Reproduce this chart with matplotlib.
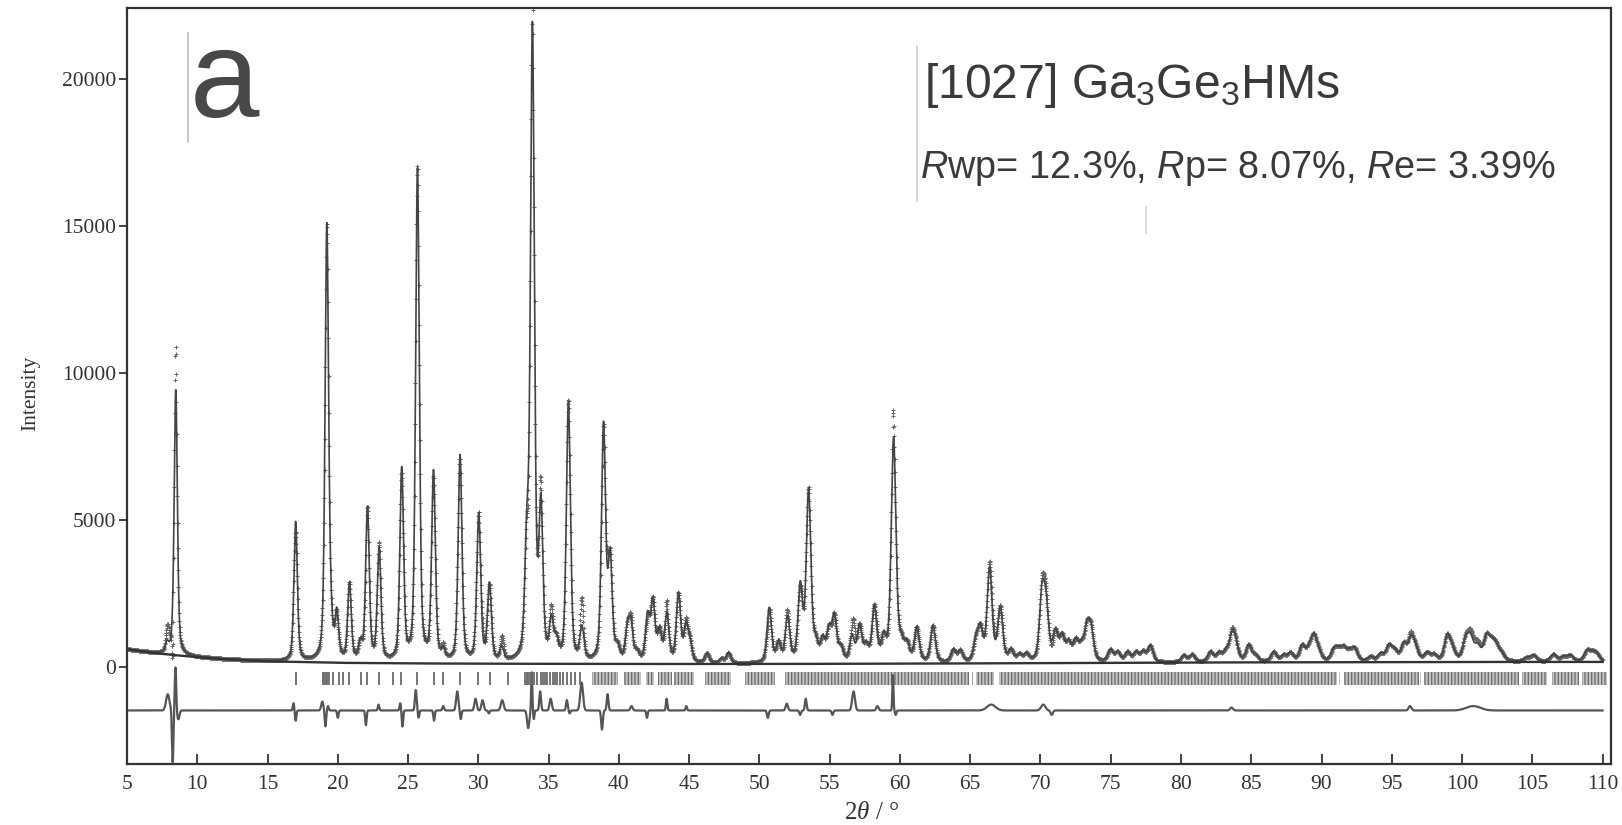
import numpy as np
import matplotlib
matplotlib.use("Agg")
import matplotlib.pyplot as plt
from matplotlib.lines import Line2D

plt.rcParams['mathtext.fontset'] = 'custom'
plt.rcParams['mathtext.rm'] = 'Liberation Sans'
plt.rcParams['mathtext.it'] = 'Liberation Sans:italic'
plt.rcParams['mathtext.sf'] = 'Liberation Sans'
plt.rcParams['mathtext.bf'] = 'Liberation Serif:italic'
plt.rcParams['hatch.linewidth'] = 0.9
plt.rcParams['hatch.color'] = '#6a6a6a'

# background points (2theta, counts)
bg_pos = [5, 6, 7, 8, 10, 12, 15, 20, 25, 30, 40, 50, 60, 70, 80, 90, 100, 110]
bg_int = [600, 530, 470, 420, 330, 260, 190, 140, 120, 110, 100, 100, 110, 130, 150, 160, 170, 170]

# calculated reflections: position (2theta) and height above background
peak_pos = [7.85, 8.47, 17.0, 19.22, 19.5, 19.93, 20.83, 21.6, 22.11, 22.94,
            24.55, 25.67, 26.81, 27.5, 28.70, 30.03, 30.79, 31.67, 33.45, 33.85,
            34.45, 35.2, 35.55, 36.41, 37.37, 38.91, 39.38, 39.9, 40.6, 40.85,
            41.3, 42.04, 42.42, 42.89, 43.41, 44.24, 44.77, 45.05, 46.27, 47.3,
            47.8, 50.7, 51.36, 52.0, 52.91, 53.50, 54.0, 54.5, 54.95, 55.33,
            55.8, 56.59, 57.13, 57.6, 58.18, 58.84, 59.55, 60.1, 60.5, 61.2,
            62.35, 63.8, 64.3, 65.4, 65.72, 66.38, 67.14, 67.9, 68.5, 69.0,
            70.11, 70.4, 71.06, 71.53, 72.0, 72.5, 72.9, 73.3, 73.6, 74.98,
            75.5, 76.2, 76.8, 77.3, 77.82, 80.2, 80.8, 82.1, 82.7, 83.2,
            83.64, 83.9, 84.82, 85.3, 86.6, 87.3, 87.8, 88.62, 89.1, 89.45,
            89.8, 90.87, 91.2, 91.58, 92.0, 92.37, 93.5, 94.2, 94.79, 95.2,
            95.86, 96.38, 96.7, 97.5, 98.0, 98.94, 99.3, 100.25, 100.6, 101.1,
            101.74, 102.1, 102.4, 102.8, 104.6, 105.1, 106.5, 107.2, 107.7, 108.9,
            109.3, 109.6]
peak_h = [300, 9050, 4730, 14750, 900, 1500, 2600, 550, 5200, 3800,
          6500, 16750, 6400, 300, 7000, 5000, 2600, 450, 3600, 21400,
          5000, 1250, 600, 8800, 1100, 8000, 3400, 450, 1000, 1200,
          300, 1500, 2000, 1000, 1600, 2300, 1150, 600, 330, 150,
          350, 1850, 650, 1500, 2500, 5800, 550, 700, 1000, 1500,
          450, 850, 1200, 500, 1850, 750, 7600, 550, 550, 1150,
          1250, 420, 380, 650, 1050, 3150, 1800, 380, 230, 250,
          2200, 1700, 950, 800, 600, 650, 450, 1050, 1000, 400,
          320, 330, 320, 330, 550, 220, 250, 330, 280, 320,
          850, 450, 550, 200, 330, 200, 280, 520, 350, 800,
          280, 360, 320, 400, 280, 400, 150, 240, 500, 320,
          560, 720, 350, 260, 200, 820, 350, 620, 700, 450,
          750, 450, 420, 230, 120, 200, 240, 150, 200, 350,
          220, 200]

# observed minus calculated features: position, amplitude, width
diff_pos = [7.9, 8.25, 8.45, 8.65, 16.85, 17.0, 18.9, 19.12, 19.3, 20.0,
            22.0, 22.9, 24.45, 24.6, 25.55, 25.75, 26.85, 27.5, 28.5, 28.75,
            29.8, 30.3, 30.75, 31.7, 33.55, 33.8, 33.95, 34.4, 35.15, 36.3,
            36.5, 37.35, 38.8, 39.2, 40.9, 42.0, 43.4, 44.8, 50.6, 51.95,
            52.9, 53.3, 55.2, 56.7, 58.4, 59.5, 59.7, 66.5, 70.2, 70.8,
            83.6, 96.3, 100.8]
diff_amp = [550, -1800, 1500, -300, 250, -350, 300, -550, 150, -250,
            -500, 200, 250, -550, 700, -250, -350, 150, 650, -300,
            400, 350, -100, 350, -600, 1300, -300, 650, 400, 350,
            -100, 950, -650, 550, 150, -250, 400, 150, -250, 230,
            -150, 400, -150, 650, 150, 1200, -150, 200, 200, -150,
            100, 150, 150]
diff_wid = [0.12, 0.05, 0.05, 0.08, 0.05, 0.05, 0.08, 0.05, 0.05, 0.05,
            0.05, 0.05, 0.05, 0.05, 0.06, 0.05, 0.05, 0.06, 0.08, 0.05,
            0.08, 0.08, 0.05, 0.1, 0.08, 0.04, 0.04, 0.06, 0.08, 0.06,
            0.05, 0.1, 0.06, 0.06, 0.08, 0.05, 0.05, 0.05, 0.06, 0.08,
            0.06, 0.06, 0.06, 0.1, 0.08, 0.04, 0.05, 0.3, 0.15, 0.08,
            0.1, 0.1, 0.5]
diff_offset = -1480

# reflection markers: single ticks and dense bands
hkl_ticks = [17.0, 18.95, 19.05, 19.15, 19.25, 19.38, 19.66, 20.07, 20.34, 20.83,
             21.62, 22.11, 22.93, 23.96, 24.52, 25.65, 26.82, 27.52, 28.72, 30.0,
             30.81, 32.14, 33.33, 33.45, 33.57, 33.69, 33.81, 33.98, 34.21, 34.45,
             34.6, 34.76, 34.9, 35.11, 35.3, 35.45, 35.6, 35.78, 36.02, 36.31,
             36.59, 36.9, 37.25]
hkl_bands = [(38.07, 39.97), (40.4, 41.55), (41.95, 42.5), (42.8, 43.8), (43.9, 45.35),
             (46.15, 47.95), (48.96, 51.14), (51.82, 64.9), (65.1, 65.2), (65.44, 66.67),
             (67.07, 91.1), (91.25, 91.35), (91.58, 96.92), (97.0, 97.1), (97.28, 104.04),
             (104.28, 106.06), (106.42, 108.31), (108.55, 110.33)]


def fwhm(p):
    return 0.26 + 0.0025 * (p - 5)


tt = np.arange(5.0, 110.0001, 0.02)
bg = np.interp(tt, bg_pos, bg_int)
calc = bg.copy()
for p, h in zip(peak_pos, peak_h):
    w = fwhm(p)
    d2 = 4 * (tt - p) ** 2 / w ** 2
    calc += h * (0.45 / (1 + d2) + 0.55 * np.exp(-np.log(2) * d2))
diff = np.zeros_like(tt)
for p, a, s in zip(diff_pos, diff_amp, diff_wid):
    diff += a * np.exp(-0.5 * ((tt - p) / s) ** 2)
obs = calc + diff

fig = plt.figure(figsize=(16.22, 8.25), dpi=100)
ax = fig.add_axes([127 / 1622, 1 - 764 / 825, (1611 - 127) / 1622, (764 - 8) / 825])

ax.plot(tt, obs, ls='none', marker='+', ms=3.5, mew=0.7, color='#666666')
ax.plot(tt, calc, color='#444444', lw=1.2)
ax.plot(tt, bg, color='#333333', lw=1.7)
ax.plot(tt, diff + diff_offset, color='#555555', lw=1.6)

ax.vlines(hkl_ticks, -600, -180, color='#6a6a6a', lw=1.3)
ax.broken_barh([(a, b - a) for a, b in hkl_bands], (-600, 420),
               facecolor='#c4c4c4', edgecolor='#6a6a6a', hatch='|||||', lw=0)

ax.set_xlim(5, 110.6)
ax.set_ylim(-3300, 22400)
ax.set_xticks(np.arange(5, 111, 5))
ax.set_yticks([0, 5000, 10000, 15000, 20000])
for s in ax.spines.values():
    s.set_linewidth(1.6)
    s.set_color('#333333')
ax.tick_params(axis='x', direction='in', length=7, width=1.3, pad=8, colors='#333333')
ax.tick_params(axis='y', direction='out', length=6, width=1.3, pad=2, colors='#333333')
for lab in ax.get_xticklabels() + ax.get_yticklabels():
    lab.set_fontfamily('Liberation Serif')
    lab.set_fontsize(15.5)

fig.text(31 / 1622, 1 - 393 / 825, 'Intensity', rotation=90, ha='center', va='center',
         family='Liberation Serif', fontsize=15.5, color='#333333')
fig.text(872 / 1622, 1 - 813 / 825, r'2$\mathbf{\theta}$ / °', ha='center', va='center',
         family='Liberation Serif', fontsize=18, color='#333333')

fig.text(190 / 1622, 1 - 117 / 825, 'a', family='Liberation Sans', fontsize=90,
         color='#484848', va='baseline')
fig.text(924 / 1622, 1 - 98 / 825, r'[1027] Ga$_\mathsf{3}$Ge$_\mathsf{3}$HMs',
         family='Liberation Sans', fontsize=34.7, color='#3a3a3a', va='baseline')
fig.text(920 / 1622, 1 - 178 / 825, r'$R$wp= 12.3%, $R$p= 8.07%, $R$e= 3.39%',
         family='Liberation Sans', fontsize=27.3, color='#3a3a3a', va='baseline')

# faint layout rules from the scan
for x0, y0, y1, c in [(188, 33, 142, '#bdbdbd'), (917, 46, 201, '#cfcfcf'), (1146, 207, 233, '#d5d5d5')]:
    fig.add_artist(Line2D([x0 / 1622, x0 / 1622], [1 - y0 / 825, 1 - y1 / 825],
                          color=c, lw=1.2, transform=fig.transFigure))

fig.savefig('out.png', dpi=100)
